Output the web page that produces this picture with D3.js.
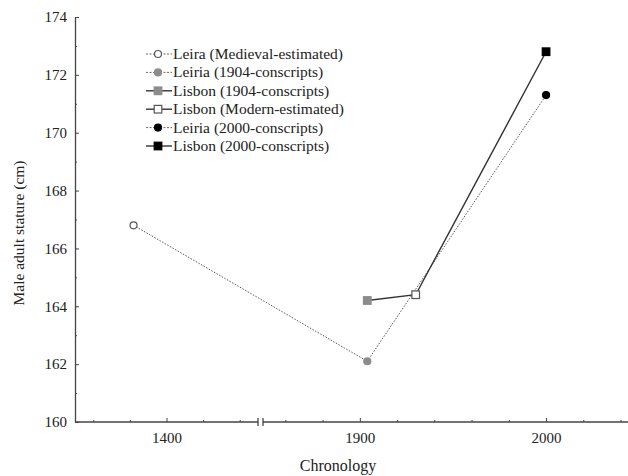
<!DOCTYPE html>
<html>
<head>
<meta charset="utf-8">
<script src="https://cdn.jsdelivr.net/npm/d3@7"></script>
<style>
  body { margin: 0; background: #fff; }
  svg { font-family: "Liberation Serif", "DejaVu Serif", serif; }
</style>
</head>
<body>
<svg width="628" height="476"></svg>
<script>
// points, in legend order
let pointLabels = ['Leira (Medieval-estimated)', 'Leiria (1904-conscripts)', 'Lisbon (1904-conscripts)',
                   'Lisbon (Modern-estimated)', 'Leiria (2000-conscripts)', 'Lisbon (2000-conscripts)']
let pointYears = [1382, 1904, 1904, 1930, 2000, 2000]
let pointStature = [166.8, 162.1, 164.2, 164.4, 171.3, 172.8]
let pointShapes = ['circle', 'circle', 'square', 'square', 'circle', 'square']
let pointFills = ['#fff', '#8c8c8c', '#8c8c8c', '#fff', '#000', '#000']
let pointStrokes = ['#555', '#8c8c8c', '#8c8c8c', '#555', '#000', '#000']

// which points each line joins
let leiriaLine = [0, 1, 4]
let lisbonLine = [2, 3, 5]

let yMajor = [160, 162, 164, 166, 168, 170, 172, 174]
let yMinor = [161, 163, 165, 167, 169, 171, 173]
let xMajor = [1400, 1900, 2000]
let xMinor = [1360, 1380, 1420, 1440, 1860, 1880, 1920, 1940, 1960, 1980, 2020, 2040]

let svg = d3.select('svg')
let axisColor = '#444'

// broken time axis: 1350-1450 then 1848-2044
let x = d3.scaleLinear()
    .domain([1350, 1450, 1848, 2044])
    .range([75, 258, 263, 628])
let y = d3.scaleLinear().domain([160, 174]).range([422, 17])

// y axis
svg.append('g')
    .attr('transform', 'translate(75,0)')
    .call(d3.axisLeft(y).tickValues(yMajor).tickSize(-4).tickSizeOuter(0).tickPadding(8).tickFormat(d3.format('d')))
svg.append('g')
    .attr('transform', 'translate(75,0)')
    .call(d3.axisLeft(y).tickValues(yMinor).tickSize(-2).tickFormat(''))
    .select('.domain').remove()

// x axis
let xAxis = svg.append('g')
    .attr('transform', 'translate(0,422)')
    .call(d3.axisBottom(x).tickValues(xMajor).tickSize(-4).tickPadding(10).tickFormat(d3.format('d')))
xAxis.select('.domain').remove()
svg.append('g')
    .attr('transform', 'translate(0,422)')
    .call(d3.axisBottom(x).tickValues(xMinor).tickSize(-2).tickFormat(''))
    .select('.domain').remove()

// axis line with the break
svg.append('line').attr('x1', 75).attr('x2', 258).attr('y1', 422).attr('y2', 422)
svg.append('line').attr('x1', 263).attr('x2', 628).attr('y1', 422).attr('y2', 422)
svg.append('line').attr('x1', 258).attr('x2', 258).attr('y1', 418).attr('y2', 426)
svg.append('line').attr('x1', 263).attr('x2', 263).attr('y1', 418).attr('y2', 426)

svg.selectAll('line:not(.tick line)').attr('stroke', axisColor).attr('stroke-width', 1.3)
svg.selectAll('.domain').attr('stroke', axisColor).attr('stroke-width', 1.3)
svg.selectAll('.tick line').attr('stroke', axisColor).attr('stroke-width', 1)
svg.selectAll('.tick text').attr('fill', '#222').style('font-size', '15px').style('font-family', '"Liberation Serif", serif')

// axis titles
svg.append('text')
    .attr('transform', 'translate(24,233) rotate(-90)')
    .attr('text-anchor', 'middle')
    .attr('fill', '#222')
    .style('font-size', '15.5px')
    .text('Male adult stature (cm)')
svg.append('text')
    .attr('x', 338).attr('y', 471)
    .attr('text-anchor', 'middle')
    .attr('fill', '#222')
    .style('font-size', '16px')
    .text('Chronology')

// lines
let line = d3.line()
    .x((i) => x(pointYears[i]))
    .y((i) => y(pointStature[i]))

svg.append('path')
    .attr('d', line(leiriaLine))
    .attr('fill', 'none')
    .attr('stroke', '#555')
    .attr('stroke-width', 1)
    .attr('stroke-dasharray', '1.5,1.5')
svg.append('path')
    .attr('d', line(lisbonLine))
    .attr('fill', 'none')
    .attr('stroke', '#333')
    .attr('stroke-width', 1.4)

let drawMarker = (g, i, cx, cy) => {
    if (pointShapes[i] === 'circle') {
        g.append('circle')
            .attr('cx', cx).attr('cy', cy).attr('r', 3.5)
            .attr('fill', pointFills[i]).attr('stroke', pointStrokes[i]).attr('stroke-width', 1.2)
    } else {
        g.append('rect')
            .attr('x', cx - 3.8).attr('y', cy - 3.8).attr('width', 7.6).attr('height', 7.6)
            .attr('fill', pointFills[i]).attr('stroke', pointStrokes[i]).attr('stroke-width', 1.2)
    }
}

let marks = svg.append('g')
pointYears.forEach((yr, i) => {
    drawMarker(marks, i, x(yr), y(pointStature[i]))
})

// legend
let legend = svg.append('g')
pointLabels.forEach((label, i) => {
    let ly = 54 + i * 18.4
    let dotted = leiriaLine.includes(i)
    legend.append('line')
        .attr('x1', 146).attr('x2', 172).attr('y1', ly).attr('y2', ly)
        .attr('stroke', dotted ? '#666' : '#333')
        .attr('stroke-width', dotted ? 1 : 1.4)
        .attr('stroke-dasharray', dotted ? '2,1.5' : null)
    drawMarker(legend, i, 158, ly)
    legend.append('text')
        .attr('x', 173).attr('y', ly + 5)
        .attr('fill', '#222')
        .style('font-size', '15.5px')
        .text(label)
})
</script>
</body>
</html>
